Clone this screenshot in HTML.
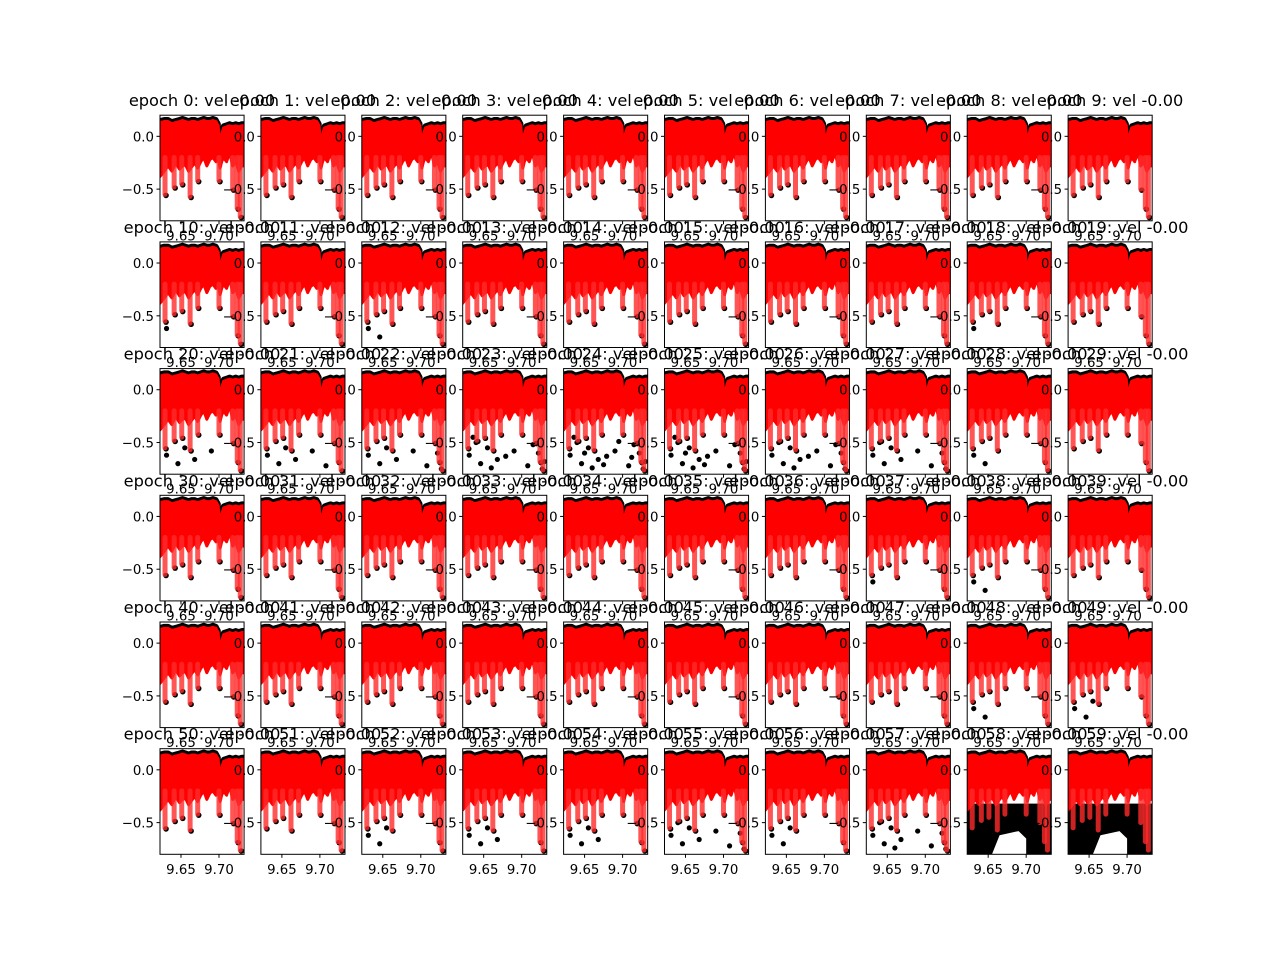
<!DOCTYPE html>
<html><head><meta charset="utf-8"><style>
body{margin:0;background:#fff;}
svg{display:block;font-family:"DejaVu Sans","Liberation Sans",sans-serif;}
</style></head><body>
<svg id="fig" width="1280" height="960" xmlns="http://www.w3.org/2000/svg">
<rect width="1280" height="960" fill="#fff"/>
</svg>
<script>
// spectrum profile (wavelength, top of cloud, bottom of cloud)
const waves = [9.6224,9.628,9.633,9.638,9.643,9.648,9.652,9.656,9.660,9.664,9.668,9.672,9.676,9.680,9.684,9.688,9.692,9.696,9.699,9.7015,9.7035,9.706,9.710,9.714,9.718,9.722,9.726,9.730,9.733];
const topFlux = [0.13,0.14,0.14,0.12,0.13,0.14,0.15,0.14,0.13,0.14,0.14,0.13,0.14,0.15,0.14,0.14,0.15,0.14,0.10,-0.20,0.02,0.08,0.09,0.10,0.09,0.10,0.09,0.10,0.10];
const lowFlux = [-0.38,-0.33,-0.28,-0.33,-0.25,-0.31,-0.28,-0.27,-0.33,-0.29,-0.25,-0.30,-0.24,-0.20,-0.28,-0.22,-0.20,-0.24,-0.20,-0.30,-0.24,-0.20,-0.24,-0.15,-0.28,-0.24,-0.33,-0.28,-0.28];
// absorption dips (wavelength, depth)
const dipWaves = [9.629,9.641,9.651,9.662,9.672,9.700,9.718,9.724,9.728];
const dipDepths = [-0.55,-0.48,-0.45,-0.57,-0.42,-0.42,-0.50,-0.68,-0.76];
// black outlier points
const outWaves = [9.631,9.646,9.655,9.668,9.690,9.708,9.722,9.727,9.640,9.660,9.679,9.715,9.730,9.636,9.650,9.675,9.695,9.712,9.725,9.645,9.665,9.685,9.705,9.720,9.632,9.657,9.682,9.703,9.718,9.731];
const outFlux = [-0.62,-0.70,-0.55,-0.66,-0.58,-0.72,-0.60,-0.75,-0.50,-0.74,-0.63,-0.52,-0.68,-0.45,-0.60,-0.71,-0.49,-0.64,-0.56,-0.57,-0.48,-0.77,-0.60,-0.70,-0.68,-0.45,-0.55,-0.50,-0.76,-0.62];
const epochOutliers = [0,0,0,0,0,0,0,0,0,0, 1,0,2,0,0,0,0,0,1,0, 5,6,8,14,18,16,12,9,2,0, 0,0,0,0,0,0,0,1,2,0, 0,0,0,0,0,0,0,0,2,3, 0,0,3,4,4,9,3,10,0,0];
const denseEpochs = [58,59];
const xTicks = [9.65,9.70];
const yTicks = [0.0,-0.5];
const xTickLabels = ["9.65","9.70"];
const yTickLabels = ["0.0","−0.5"];

const NS="http://www.w3.org/2000/svg";
const fig=document.getElementById('fig');
const L=160, W=84.07, DX=100.9, T=115.2, H=105.6, DY=126.7;
const XMIN=9.6224, XMAX=9.733, YMIN=-0.8, YMAX=0.2;
function mk(tag,attrs,parent){const e=document.createElementNS(NS,tag);for(const k in attrs)e.setAttribute(k,attrs[k]);(parent||fig).appendChild(e);return e;}

const titles=[];
for(let ep=0;ep<60;ep++){
  const r=Math.floor(ep/10), c=ep%10;
  const x0=L+c*DX, y0=T+r*DY;
  const sx=v=>x0+(v-XMIN)/(XMAX-XMIN)*W;
  const sy=v=>y0+(YMAX-v)/(YMAX-YMIN)*H;
  const g=mk('g',{});
  
  
  const cp=mk('clipPath',{id:'cp'+ep},g);
  mk('rect',{x:x0,y:y0,width:W,height:H},cp);
  const d=mk('g',{'clip-path':'url(#cp'+ep+')'},g);
  if(denseEpochs.includes(ep)){
    const bg=mk('rect',{x:x0,y:sy(-0.32),width:W,height:H},d);
    
    
    const hole=mk('path',{d:`M${sx(9.655)},${sy(-0.8)} L${sx(9.665)},${sy(-0.62)} L${sx(9.69)},${sy(-0.58)} L${sx(9.70)},${sy(-0.65)} L${sx(9.70)},${sy(-0.8)} Z`,fill:'#fff'},d);
    
    
  }
  let topPts=waves.map((w,i)=>sx(w)+','+(sy(topFlux[i])-2)).join(' ');
  const band=mk('polyline',{points:topPts,fill:'none',stroke:'#000','stroke-width':5,'stroke-linejoin':'round'},d);
  
  
  dipWaves.forEach((w,i)=>{
    const dl=mk('circle',{cx:sx(w)+1,cy:sy(dipDepths[i])+1,r:2.8,fill:'#000'},d);
    
    
  });
  const n=epochOutliers[ep];
  for(let k=0;k<n&&k<outWaves.length;k++){
    const p=mk('circle',{cx:sx(outWaves[k]),cy:sy(outFlux[k]),r:2.6,fill:'#000'},d);
    
    
  }
  let poly=waves.map((w,i)=>sx(w)+','+sy(topFlux[i])).concat(waves.slice().reverse().map((w,j)=>{const i=waves.length-1-j;return sx(w)+','+sy(lowFlux[i]);})).join(' ');
  const cloud=mk('polygon',{points:poly,fill:'#ff0000',stroke:'#ff0000','stroke-width':3,'stroke-linejoin':'round'},d);
  
  
  dipWaves.forEach((w,i)=>{
    const dl=mk('line',{x1:sx(w),y1:sy(-0.2),x2:sx(w),y2:sy(dipDepths[i]),stroke:'#ff2a2a','stroke-width':5,'stroke-linecap':'round','stroke-opacity':0.8},d);
    
    
  });
  const fr=mk('rect',{x:x0,y:y0,width:W,height:H,fill:'none',stroke:'#000','stroke-width':1},g);
  
  
  xTicks.forEach((v,i)=>{
    mk('line',{x1:sx(v),x2:sx(v),y1:y0+H,y2:y0+H+3.5,stroke:'#000'},g);
    const t=mk('text',{x:sx(v),y:y0+H+19.5,'font-size':13.3,'text-anchor':'middle'},g);
    t.textContent=xTickLabels[i];
    
    
  });
  yTicks.forEach((v,i)=>{
    mk('line',{x1:x0-3.5,x2:x0,y1:sy(v),y2:sy(v),stroke:'#000'},g);
    const t=mk('text',{x:x0-6,y:sy(v)+5,'font-size':13.3,'text-anchor':'end'},g);
    t.textContent=yTickLabels[i];
    
    
  });
  titles.push([x0+W/2,y0-9,'epoch '+ep+': vel -0.00']);
}
titles.forEach(tt=>{
  const t=mk('text',{x:tt[0],y:tt[1],'font-size':16.2,'text-anchor':'middle'});
  t.textContent=tt[2];
  
  
});
</script>
</body></html>
